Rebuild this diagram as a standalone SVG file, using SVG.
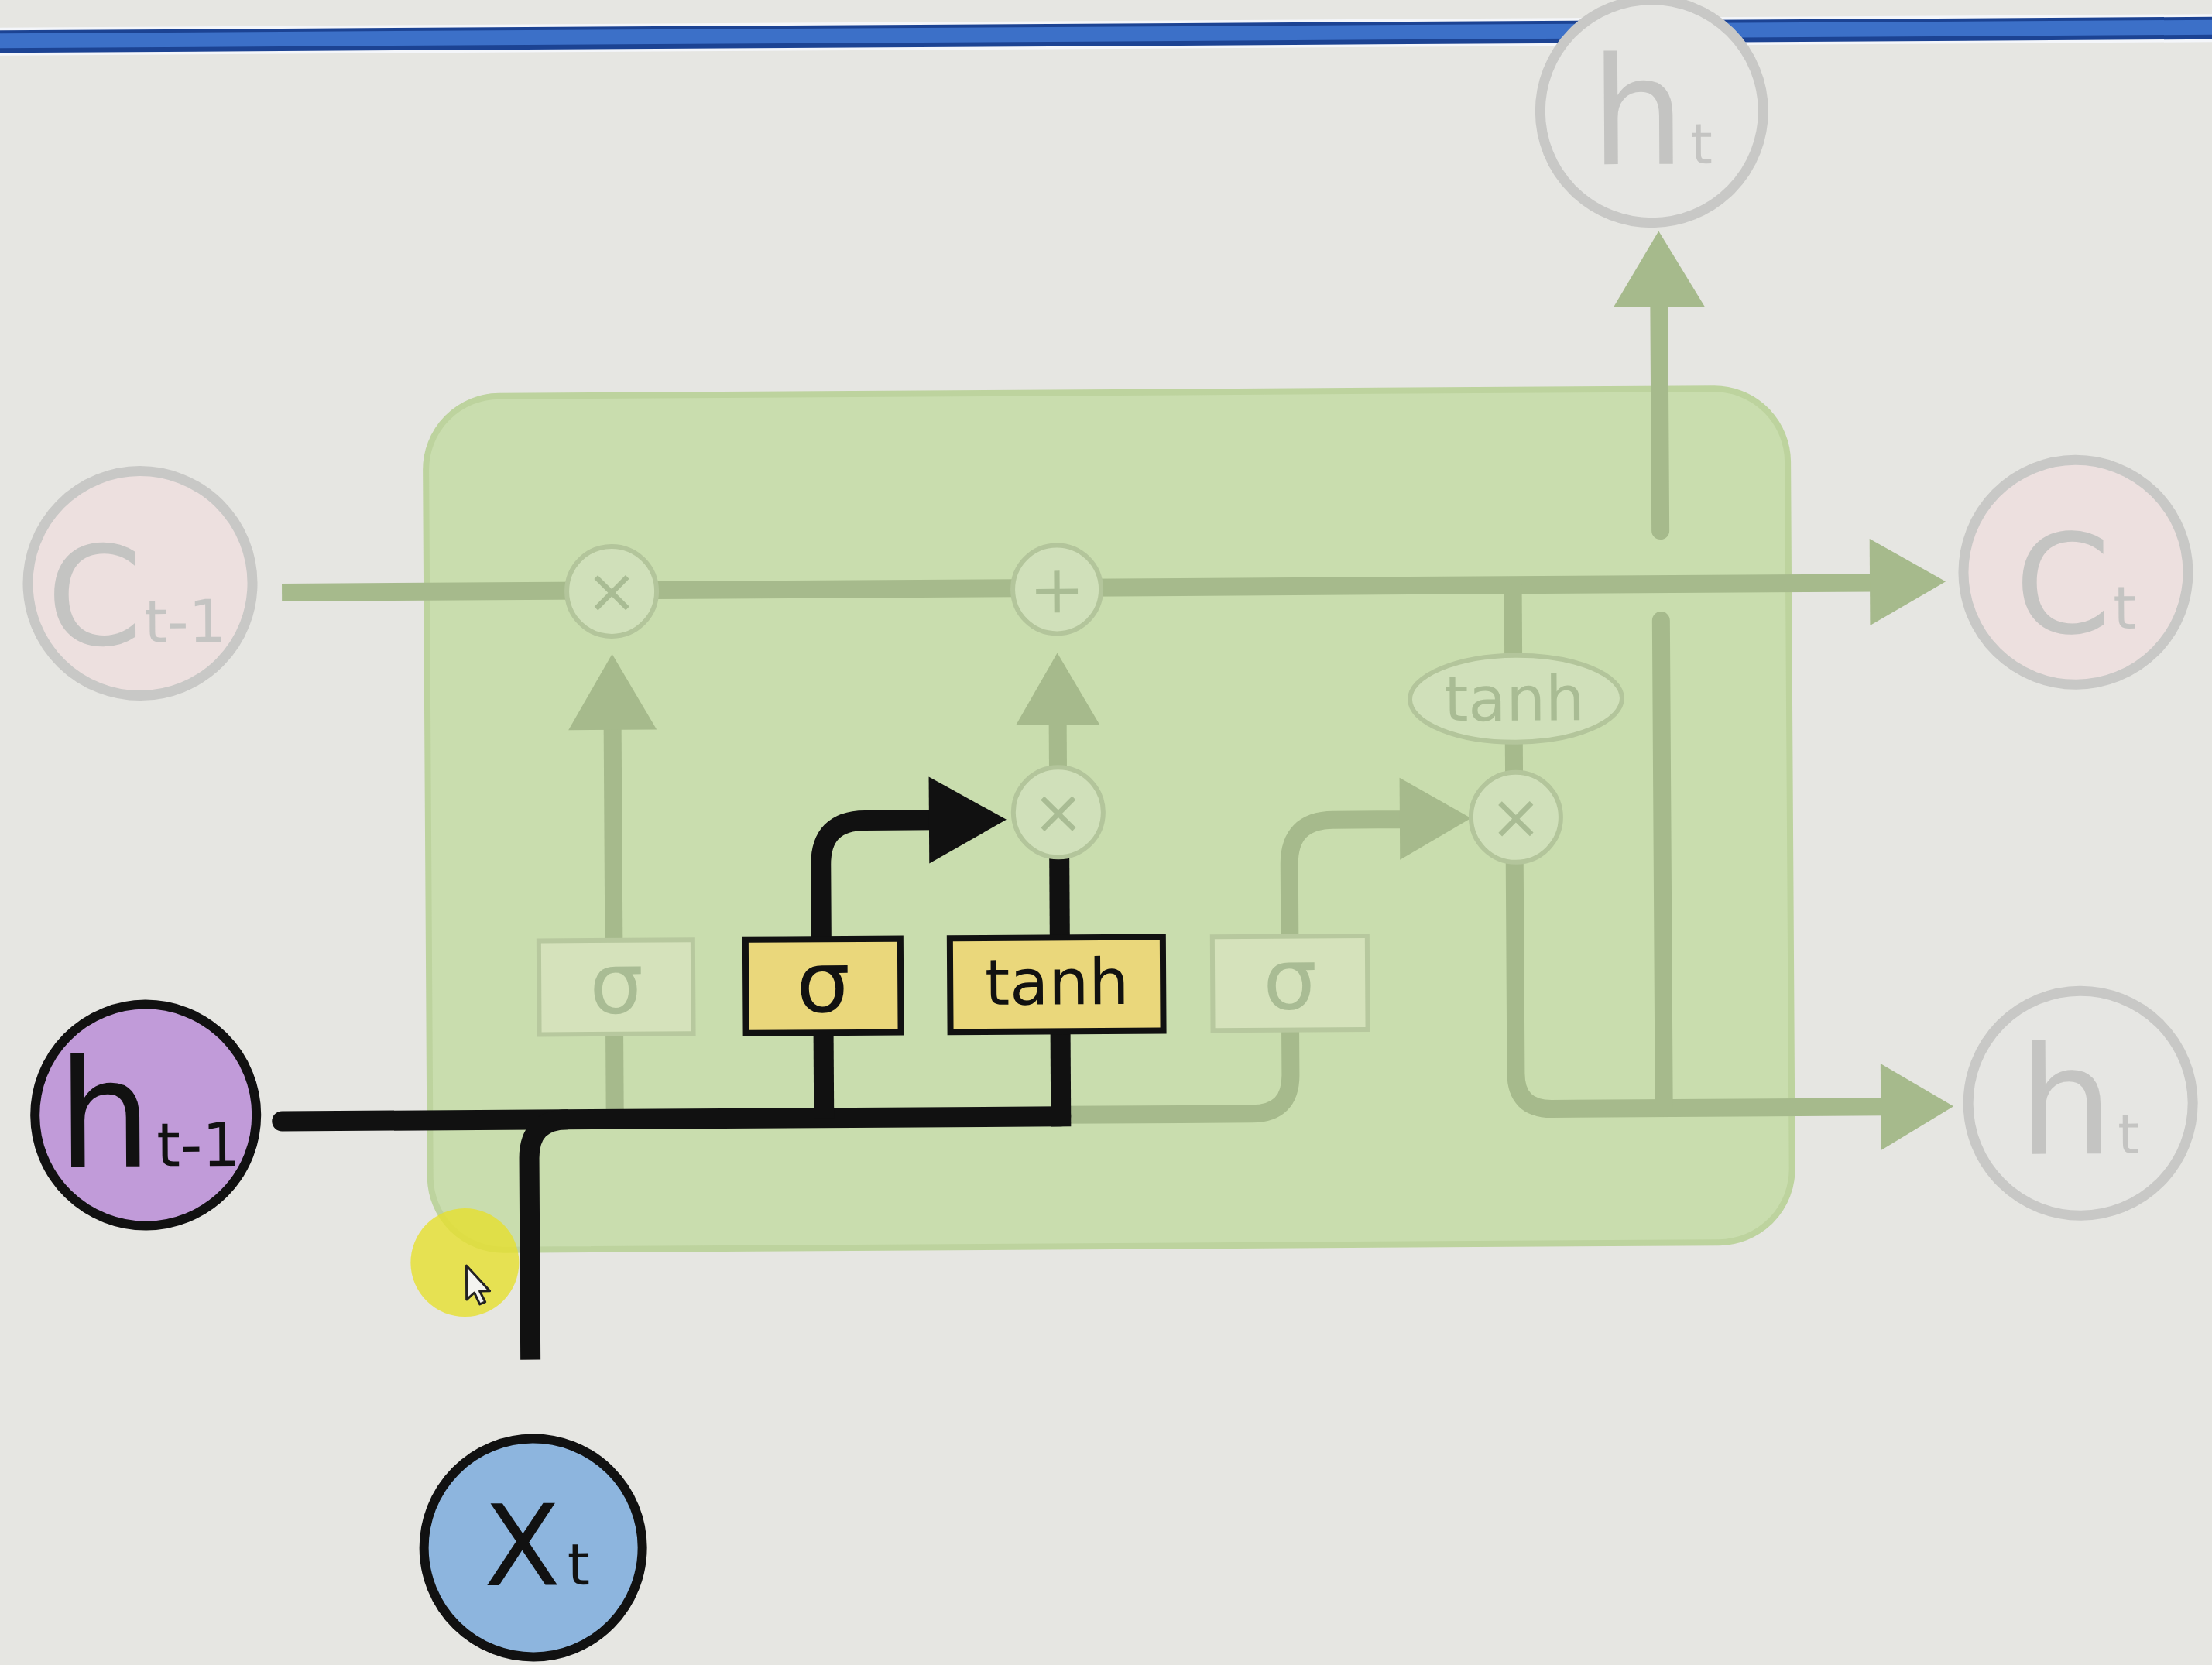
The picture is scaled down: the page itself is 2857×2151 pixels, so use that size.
<svg xmlns="http://www.w3.org/2000/svg" width="2857" height="2151" viewBox="0 0 2857 2151">
<style>
.fl{stroke:#a6ba8c;stroke-width:23;fill:none}
.fa{fill:#a6ba8c}
.bl{stroke:#111;stroke-width:26;fill:none}
.ba{fill:#111}
.op{fill:#d0e0ba;stroke:#b3c59b;stroke-width:6}
.opt{font-family:'DejaVu Sans','Liberation Sans',sans-serif;fill:#a9bc94;text-anchor:middle}
.fbox{fill:#d5e2bb;stroke:#b7c89e;stroke-width:6}
.ybox{fill:#ead77b;stroke:#111;stroke-width:8}
.lbl{font-family:'DejaVu Sans','Liberation Sans',sans-serif}
.fc{fill:#ede0df;stroke:#c8c8c6;stroke-width:13}
.fh{fill:#e6e6e3;stroke:#c8c8c6;stroke-width:13}
.ft{fill:#c4c4c2}
</style>
<rect x="0" y="0" width="2857" height="2151" fill="#e6e6e2"/>
<g transform="rotate(-0.35 1428 1075)">
  <g id="topbar">
    <line x1="-100" y1="45" x2="2960" y2="45" stroke="#f4f6fa" stroke-width="36"/>
    <line x1="-100" y1="45" x2="2960" y2="45" stroke="#1c4393" stroke-width="29"/>
    <line x1="-100" y1="44" x2="2960" y2="44" stroke="#3c70c8" stroke-width="19"/>
  </g>
  <g id="cell-box">
    <rect x="553" y="507" width="1759" height="1103" rx="95" fill="#c9ddae" stroke="#bdd39e" stroke-width="8"/>
  </g>
  <g id="connectors">
    <line class="fl" x1="366" y1="759" x2="2425" y2="759"/>
    <polygon class="fa" points="2417,702 2515,758 2417,814"/>
    <line class="fl" x1="792" y1="1442" x2="792" y2="1332"/>
    <line class="fl" x1="792" y1="1211" x2="792" y2="935"/>
    <polygon class="fa" points="735,939 792,841 849,939"/>
    <line class="fl" x1="1367" y1="991" x2="1367" y2="930"/>
    <polygon class="fa" points="1313,936 1367,843 1421,936"/>
    <path class="fl" d="M1368,1440 L1615,1440 Q1665,1440 1665,1390 L1665,1332"/>
    <path class="fl" d="M1665,1211 L1665,1118 Q1665,1061 1722,1061 L1815,1061"/>
    <polygon class="fa" points="1808,1007 1900,1060 1808,1113"/>
    <line class="fl" x1="1956" y1="759" x2="1956" y2="852"/>
    <line class="fl" x1="1956" y1="960" x2="1956" y2="1003"/>
    <path class="fl" d="M1956,1115 L1956,1390 Q1956,1436 2002,1436 L2432,1436"/>
    <polygon class="fa" points="2427,1380 2521,1436 2427,1492"/>
    <line class="fl" x1="2147" y1="1436" x2="2147" y2="806" stroke-linecap="round"/>
    <line class="fl" x1="2147" y1="690" x2="2147" y2="395" stroke-linecap="round"/>
    <polygon class="fa" points="2088,401 2147,303 2206,401"/>
    <line class="bl" x1="362" y1="1442" x2="1368" y2="1442" stroke-linecap="round"/>
    <path class="bl" d="M681,1752 L681,1492 Q681,1442 731,1442"/>
    <line class="bl" x1="1062" y1="1442" x2="1062" y2="1332"/>
    <path class="bl" d="M1060,1211 L1060,1115 Q1060,1058 1117,1058 L1210,1058"/>
    <polygon class="ba" points="1200,1002 1300,1058 1200,1114"/>
    <line class="bl" x1="1368" y1="1455" x2="1368" y2="1332"/>
    <line class="bl" x1="1368" y1="1211" x2="1368" y2="1105"/>
  </g>
  <g id="op-mul-forget">
    <circle class="op" cx="792" cy="760" r="58"/>
    <text class="opt" x="792" y="787" font-size="80">×</text>
  </g>
  <g id="op-add">
    <circle class="op" cx="1367" cy="761" r="57"/>
    <text class="opt" x="1367" y="791" font-size="86">+</text>
  </g>
  <g id="op-mul-input">
    <circle class="op" cx="1367" cy="1049" r="58"/>
    <text class="opt" x="1367" y="1076" font-size="80">×</text>
  </g>
  <g id="op-mul-output">
    <circle class="op" cx="1958" cy="1059" r="58"/>
    <text class="opt" x="1958" y="1086" font-size="80">×</text>
  </g>
  <g id="op-tanh">
    <ellipse class="op" cx="1959" cy="906" rx="137" ry="56"/>
    <text class="opt" x="1957" y="934" font-size="80">tanh</text>
  </g>
  <g id="gate-forget">
    <rect class="fbox" x="695" y="1211" width="199" height="121"/>
    <text class="opt" x="795" y="1305" font-size="110">σ</text>
  </g>
  <g id="gate-input">
    <rect class="ybox" x="962" y="1211" width="200" height="121"/>
    <text class="lbl" x="1062" y="1305" font-size="110" text-anchor="middle" fill="#111">σ</text>
  </g>
  <g id="gate-candidate">
    <rect class="ybox" x="1226" y="1211" width="275" height="121"/>
    <text class="lbl" x="1364" y="1297" font-size="82" text-anchor="middle" fill="#111">tanh</text>
  </g>
  <g id="gate-output">
    <rect class="fbox" x="1565" y="1211" width="200" height="121"/>
    <text class="opt" x="1665" y="1305" font-size="110">σ</text>
  </g>
  <g id="node-c-prev">
    <circle class="fc" cx="183" cy="746" r="145"/>
    <text class="lbl ft" x="62" y="825" font-size="178">C</text>
    <text class="lbl ft" x="188" y="822" font-size="76">t-1</text>
  </g>
  <g id="node-c-next">
    <circle class="fc" cx="2683" cy="747" r="145"/>
    <text class="lbl ft" x="2604" y="825" font-size="178">C</text>
    <text class="lbl ft" x="2731" y="820" font-size="76">t</text>
  </g>
  <g id="node-h-top">
    <circle class="fh" cx="2139" cy="148" r="144"/>
    <text class="lbl ft" x="2060" y="216" font-size="193">h</text>
    <text class="lbl ft" x="2189" y="216" font-size="72">t</text>
  </g>
  <g id="node-h-next">
    <circle class="fh" cx="2685" cy="1433" r="145"/>
    <text class="lbl ft" x="2605" y="1498" font-size="193">h</text>
    <text class="lbl ft" x="2733" y="1498" font-size="70">t</text>
  </g>
  <g id="node-h-prev">
    <circle cx="186" cy="1433" r="143" fill="#c19bd9" stroke="#111" stroke-width="12"/>
    <text class="lbl" x="72" y="1499" font-size="193" fill="#111">h</text>
    <text class="lbl" x="200" y="1499" font-size="78" fill="#111">t-1</text>
  </g>
  <g id="node-x">
    <circle cx="683" cy="1995" r="141" fill="#8db5de" stroke="#111" stroke-width="12"/>
    <text class="lbl" x="619" y="2043" font-size="145" fill="#111">X</text>
    <text class="lbl" x="727" y="2043" font-size="74" fill="#111">t</text>
  </g>
  <g id="pointer">
    <circle cx="597" cy="1626" r="70" fill="#e6e02e" opacity="0.8"/>
    <polygon points="599,1630 599,1674 609,1665 616,1680 623,1677 616,1663 629,1663" fill="#f4f4f0" stroke="#222" stroke-width="3" stroke-linejoin="round"/>
  </g>
</g>
</svg>
